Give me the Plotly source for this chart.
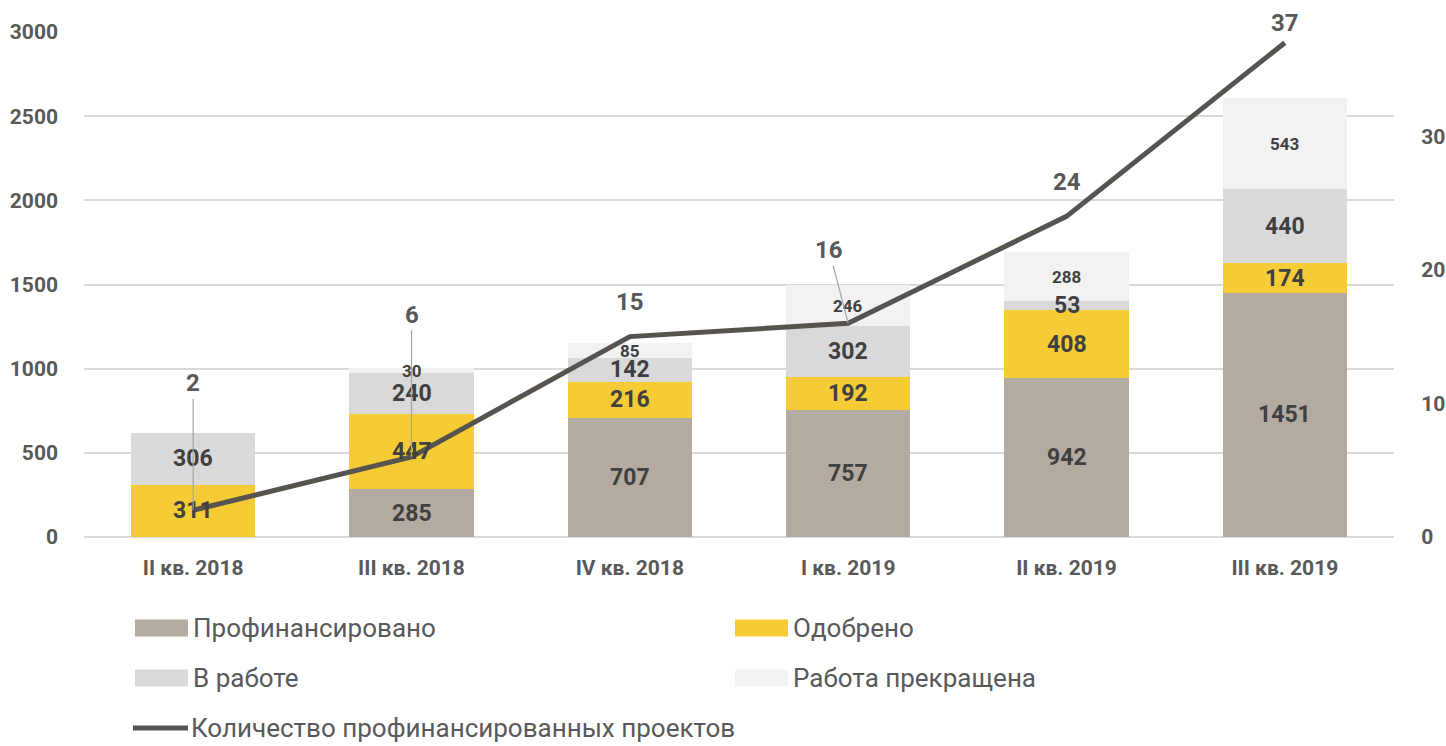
import plotly.graph_objects as go

categories = ["II кв. 2018", "III кв. 2018", "IV кв. 2018", "I кв. 2019", "II кв. 2019", "III кв. 2019"]
financed = [0, 285, 707, 757, 942, 1451]
approved = [311, 447, 216, 192, 408, 174]
in_work = [306, 240, 142, 302, 53, 440]
stopped = [0, 30, 85, 246, 288, 543]
projects = [2, 6, 15, 16, 24, 37]

series_names = ["Профинансировано", "Одобрено", "В работе", "Работа прекращена"]
line_name = "Количество профинансированных проектов"

# styles
FONT = "Roboto, Liberation Sans, sans-serif"
colors = ["#b3aba1", "#f5cc35", "#d9d9d9", "#f2f2f2"]
line_color = "#57534e"
label_color = "#404040"
axis_color = "#595959"
label_sizes = [23, 23, 23, 17]
# pixel offsets of the line labels (label centre relative to point) and whether a leader is drawn
line_label_offsets = [(0, -127), (0, -142), (0, -35), (-19, -73), (0, -34), (0, -20)]
line_label_leader = [True, True, False, True, False, False]

W, H = 1446, 746
L, R, T, B = 84, 52, 32, 209
PW, PH = W - L - R, H - T - B

def px(xp):
    return (xp - L) / PW

def py(yp):
    return (H - B - yp) / PH

fig = go.Figure()
all_series = [financed, approved, in_work, stopped]
for name, vals, col in zip(series_names, all_series, colors):
    fig.add_trace(go.Bar(x=categories, y=vals, name=name, marker=dict(color=col, line=dict(width=0)),
                         showlegend=False, hoverinfo="x+y+name"))

fig.add_trace(go.Scatter(x=categories, y=projects, name=line_name, yaxis="y2", mode="lines",
                         line=dict(color=line_color, width=5), showlegend=False))

annotations = []
# bar segment labels
for si, vals in enumerate(all_series):
    for ci, cat in enumerate(categories):
        v = vals[ci]
        if v == 0:
            continue
        base = sum(all_series[k][ci] for k in range(si))
        annotations.append(dict(x=cat, y=base + v / 2, xref="x", yref="y", text=f"<b>{v}</b>",
                                showarrow=False, font=dict(family=FONT, size=label_sizes[si], color=label_color)))

# line labels
for ci, cat in enumerate(categories):
    ax, ay = line_label_offsets[ci]
    annotations.append(dict(x=cat, y=projects[ci], xref="x", yref="y2", text=f"<b>{projects[ci]}</b>",
                            showarrow=True, ax=ax, ay=ay, axref="pixel", ayref="pixel",
                            arrowhead=0, arrowwidth=1.2,
                            arrowcolor="#a6a6a6" if line_label_leader[ci] else "rgba(0,0,0,0)",
                            font=dict(family=FONT, size=24, color=axis_color)))

# manual legend
legend_items = [
    (series_names[0], colors[0], 135, 628, "bar"),
    (series_names[1], colors[1], 735, 628, "bar"),
    (series_names[2], colors[2], 135, 678, "bar"),
    (series_names[3], colors[3], 735, 678, "bar"),
    (line_name, line_color, 133, 728, "line"),
]
shapes = []
for name, col, x0, yc, kind in legend_items:
    if kind == "bar":
        shapes.append(dict(type="rect", xref="paper", yref="paper", x0=px(x0), x1=px(x0 + 53),
                           y0=py(yc + 8.5), y1=py(yc - 8.5), fillcolor=col, line=dict(width=0)))
    else:
        shapes.append(dict(type="line", xref="paper", yref="paper", x0=px(x0), x1=px(x0 + 55),
                           y0=py(yc), y1=py(yc), line=dict(color=col, width=5)))
    annotations.append(dict(x=px(x0 + 56), y=py(yc), xref="paper", yref="paper", text=name,
                            xanchor="left", yanchor="middle", showarrow=False,
                            font=dict(family=FONT, size=26, color=axis_color)))

tick_font = dict(family=FONT, size=21, color=axis_color, weight="bold")

fig.update_layout(
    width=W, height=H,
    margin=dict(l=L, r=R, t=T, b=B, autoexpand=False),
    barmode="stack", bargap=0.43,
    plot_bgcolor="white", paper_bgcolor="white",
    font=dict(family=FONT, color=axis_color),
    showlegend=False,
    xaxis=dict(showgrid=False, showline=False, ticks="", tickfont=tick_font, ticklabelstandoff=16),
    yaxis=dict(range=[0, 3000], tickvals=[0, 500, 1000, 1500, 2000, 2500, 3000], showgrid=True,
               gridcolor="#d9d9d9", gridwidth=1.5, zeroline=True, zerolinecolor="#d9d9d9", zerolinewidth=1.5,
               showline=False, ticks="", tickfont=tick_font, ticklabelstandoff=25),
    yaxis2=dict(range=[0, 37.8], tickvals=[0, 10, 20, 30], overlaying="y", side="right", showgrid=False,
                zeroline=False, showline=False, ticks="outside", ticklen=22, tickcolor="white",
                tickfont=tick_font),
    annotations=annotations,
    shapes=shapes,
)

fig.write_html("out.html")
